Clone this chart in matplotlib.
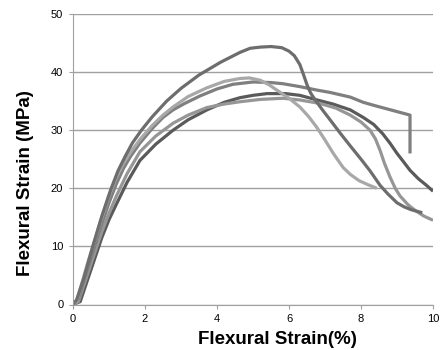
import numpy as np
import matplotlib
matplotlib.use("Agg")
import matplotlib.pyplot as plt

# strain (%) / stress (MPa) points, one pair per specimen
a_x = [0, 0.1, 0.3, 0.55, 0.8, 1.05, 1.25, 1.45, 1.65, 1.9, 2.2, 2.6, 3.0, 3.5, 4.1, 4.64, 4.92, 5.2, 5.5, 5.8, 6.0, 6.15, 6.3, 6.4, 6.5, 6.6, 6.75, 6.94, 7.2, 7.42, 7.7, 8.0, 8.25, 8.53, 8.75, 9.0, 9.2, 9.4, 9.7]
a_y = [0, 0.8, 4.5, 10, 15.2, 19.8, 23, 25.5, 27.8, 30, 32.3, 35, 37.2, 39.5, 41.7, 43.4, 44.1, 44.3, 44.4, 44.2, 43.6, 42.8, 41.3, 39.6, 37.8, 36.4, 35, 33.4, 31.3, 29.5, 27.3, 25, 23, 20.5, 19, 17.5, 16.8, 16.3, 15.8]

b_x = [0, 0.15, 0.4, 0.7, 1.0, 1.2, 1.4, 1.6, 1.86, 2.2, 2.5, 2.78, 3.1, 3.53, 4.0, 4.44, 5.0, 5.5, 5.83, 6.3, 6.78, 7.14, 7.7, 8.06, 8.4, 8.7, 9.0, 9.36, 9.36]
b_y = [0, 1, 6, 12, 17.5, 20.7, 23.4, 25.5, 27.8, 30.3, 32.2, 33.5, 34.6, 35.9, 37.1, 37.9, 38.3, 38.2, 38, 37.5, 36.9, 36.5, 35.7, 34.8, 34.2, 33.7, 33.2, 32.6, 26]

c_x = [0, 0.1, 0.4, 0.7, 1.0, 1.2, 1.4, 1.6, 1.86, 2.2, 2.5, 2.78, 3.2, 3.72, 4.2, 4.64, 4.9, 5.2, 5.45, 5.66, 6.0, 6.3, 6.55, 6.77, 7.0, 7.23, 7.5, 7.7, 7.95, 8.2, 8.44]
c_y = [0, 0.5, 7, 13, 18.7, 21.8, 24.3, 26.2, 28.4, 30.8, 32.6, 34, 35.8, 37.3, 38.4, 38.9, 39, 38.6, 37.8, 36.9, 35.5, 34, 32.3, 30.5, 28.3, 26, 23.6, 22.4, 21.3, 20.6, 20]

d_x = [0, 0.2, 0.5, 0.8, 1.0, 1.2, 1.5, 1.86, 2.3, 2.78, 3.2, 3.72, 4.2, 4.64, 5.0, 5.39, 5.9, 6.3, 6.78, 7.22, 7.7, 8.06, 8.35, 8.6, 8.8, 9.0, 9.2, 9.36, 9.6, 9.8, 10]
d_y = [0, 0.5, 6, 11.5, 14.6, 17.2, 21, 24.8, 27.6, 30, 31.8, 33.5, 34.8, 35.6, 36, 36.3, 36.3, 36, 35.2, 34.5, 33.5, 32.2, 31, 29.4, 27.8, 26, 24.4, 23.1, 21.6, 20.6, 19.5]

e_x = [0, 0.15, 0.5, 0.8, 1.0, 1.2, 1.5, 1.86, 2.3, 2.78, 3.2, 3.72, 4.2, 4.64, 5.2, 5.83, 6.3, 6.86, 7.3, 7.7, 8.0, 8.25, 8.4, 8.53, 8.65, 8.8, 8.95, 9.08, 9.3, 9.5, 9.75, 10]
e_y = [0, 0.5, 7, 12.5, 15.7, 18.6, 22.5, 26.3, 29, 31.2, 32.6, 33.9, 34.5, 34.9, 35.3, 35.5, 35.2, 34.6, 33.8, 32.6, 31.4, 30, 28.5, 26.5, 24.3, 22, 20, 18.7, 17.2, 16.2, 15.2, 14.5]

series = [(d_x, d_y, '#5a5a5a'), (e_x, e_y, '#969696'), (b_x, b_y, '#7f7f7f'),
          (c_x, c_y, '#a8a8a8'), (a_x, a_y, '#6d6d6d')]

fig = plt.figure(figsize=(4.41, 3.5), dpi=100)
ax = fig.add_axes([0.1655, 0.13, 0.8165, 0.83])

for x, y, col in series:
    ax.plot(x, y, color=col, lw=2.3, solid_capstyle='butt', solid_joinstyle='round')

ax.set_xlim(0, 10)
ax.set_ylim(0, 50)
ax.set_xticks([0, 2, 4, 6, 8, 10])
ax.set_yticks([0, 10, 20, 30, 40, 50])
ax.yaxis.grid(True, color='#a0a0a0', lw=1)
ax.set_axisbelow(True)

for s in ['top', 'right']:
    ax.spines[s].set_visible(False)
for s in ['left', 'bottom']:
    ax.spines[s].set_color('#a0a0a0')
ax.tick_params(axis='both', color='#a0a0a0', length=3, labelsize=8, pad=4)
for lab in ax.get_xticklabels() + ax.get_yticklabels():
    lab.set_family('Liberation Sans')

ax.set_xlabel('Flexural Strain(%)', fontsize=13.5, fontweight='bold', family='Liberation Sans')
ax.set_ylabel('Flexural Strain (MPa)', fontsize=13.5, fontweight='bold', family='Liberation Sans')
ax.xaxis.set_label_coords(0.567, -0.122)
ax.yaxis.set_label_coords(-0.133, 0.418)
ax.xaxis.label.set_va('center')
ax.yaxis.label.set_va('center')

fig.savefig('out.png', dpi=100)
